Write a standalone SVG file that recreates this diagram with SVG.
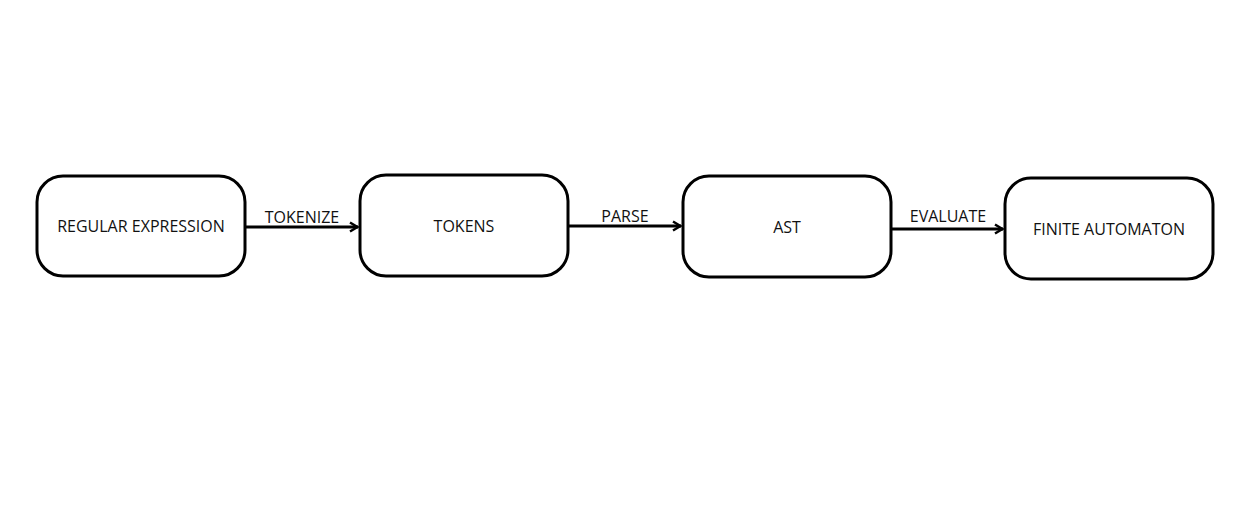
<svg xmlns="http://www.w3.org/2000/svg" width="1255" height="513" viewBox="0 0 1255 513">
<style>
.box{fill:#fff;stroke:#000;stroke-width:3}
.t{font-family:"Open Sans","Noto Sans",sans-serif;font-size:16px;fill:#111;text-anchor:middle}
.c{stroke:#000;stroke-width:3;fill:none}
</style>
<defs>
<marker id="ah" viewBox="0 0 12 12" refX="11" refY="6" markerWidth="12" markerHeight="12" markerUnits="userSpaceOnUse" orient="auto">
<path d="M3,1.5 L10.5,6 L3,10.5" fill="none" stroke="#000" stroke-width="2.5"/>
</marker>
</defs>
<rect width="1255" height="513" fill="#fff"/>
<g id="n1"><rect class="box" x="37" y="176" width="208" height="100" rx="26"/><text class="t" x="141" y="232">REGULAR EXPRESSION</text></g>
<g id="n2"><rect class="box" x="360" y="175" width="208" height="101" rx="26"/><text class="t" x="464" y="232">TOKENS</text></g>
<g id="n3"><rect class="box" x="683" y="176" width="208" height="101" rx="26"/><text class="t" x="787" y="233">AST</text></g>
<g id="n4"><rect class="box" x="1005" y="178" width="208" height="101" rx="26"/><text class="t" x="1109" y="235">FINITE AUTOMATON</text></g>
<g id="connectors">
<line class="c" x1="245" y1="227" x2="358" y2="227" marker-end="url(#ah)"/>
<text class="t" x="302" y="223">TOKENIZE</text>
<line class="c" x1="568" y1="226" x2="681" y2="226" marker-end="url(#ah)"/>
<text class="t" x="625" y="222">PARSE</text>
<line class="c" x1="891" y1="229" x2="1003" y2="229" marker-end="url(#ah)"/>
<text class="t" x="948" y="222">EVALUATE</text>
</g>
</svg>
